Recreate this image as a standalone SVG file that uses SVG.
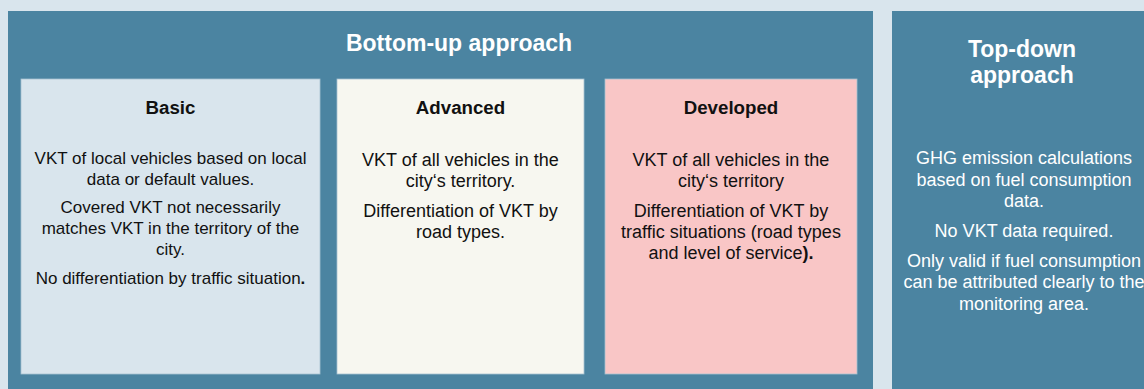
<svg xmlns="http://www.w3.org/2000/svg" width="1144" height="389" viewBox="0 0 1144 389">
<style>
.panel{fill:#4b84a1}
.box{stroke:#a7c2d1;stroke-width:0.8}
.head{font-family:"Liberation Sans",Arial,sans-serif;font-weight:bold;font-size:23px;fill:#ffffff;text-anchor:middle}
.sub{font-family:"Liberation Sans",Arial,sans-serif;font-weight:bold;font-size:18.7px;fill:#111111;text-anchor:middle}
.body{font-family:"Liberation Sans",Arial,sans-serif;font-size:18px;fill:#111111;text-anchor:middle}
.small{font-size:17px}
.wbody{font-family:"Liberation Sans",Arial,sans-serif;font-size:18px;fill:#ffffff;text-anchor:middle}
</style>
<rect x="0" y="0" width="1144" height="389" fill="#d9e5ed"/>
<g id="bottom-up">
<rect class="panel" x="8" y="11" width="865" height="390"/>
<text class="head" x="459" y="51" font-size="23.5">Bottom-up approach</text>
</g>
<g id="basic">
<rect class="box" x="21" y="79" width="299" height="295" fill="#d9e5ed"/>
<text class="sub" x="170.5" y="114">Basic</text>
<text class="body small" x="170.5" y="164">VKT of local vehicles based on local</text>
<text class="body small" x="170.5" y="185">data or default values.</text>
<text class="body small" x="170.5" y="213">Covered VKT not necessarily</text>
<text class="body small" x="170.5" y="234">matches VKT in the territory of the</text>
<text class="body small" x="170.5" y="255">city.</text>
<text class="body small" x="170.5" y="284">No differentiation by traffic situation<tspan font-weight="bold">.</tspan></text>
</g>
<g id="advanced">
<rect class="box" x="337" y="79" width="247" height="295" fill="#f7f7f0"/>
<text class="sub" x="460.5" y="114">Advanced</text>
<text class="body" x="460.5" y="166">VKT of all vehicles in the</text>
<text class="body" x="460.5" y="187">city‘s territory.</text>
<text class="body" x="460.5" y="217">Differentiation of VKT by</text>
<text class="body" x="460.5" y="238">road types.</text>
</g>
<g id="developed">
<rect class="box" x="605" y="79" width="252" height="295" fill="#f9c6c6"/>
<text class="sub" x="731" y="114">Developed</text>
<text class="body" x="731" y="166">VKT of all vehicles in the</text>
<text class="body" x="731" y="187">city‘s territory</text>
<text class="body" x="731" y="217">Differentiation of VKT by</text>
<text class="body" x="731" y="238">traffic situations (road types</text>
<text class="body" x="731" y="259">and level of service<tspan font-weight="bold">).</tspan></text>
</g>
<g id="top-down">
<rect class="panel" x="892" y="11" width="260" height="390"/>
<text class="head" x="1022" y="57">Top-down</text>
<text class="head" x="1022" y="83">approach</text>
<text class="wbody" x="1024" y="164">GHG emission calculations</text>
<text class="wbody" x="1024" y="186">based on fuel consumption</text>
<text class="wbody" x="1024" y="207">data.</text>
<text class="wbody" x="1024" y="237">No VKT data required.</text>
<text class="wbody" x="1024" y="267">Only valid if fuel consumption</text>
<text class="wbody" x="1024" y="288">can be attributed clearly to the</text>
<text class="wbody" x="1024" y="310">monitoring area.</text>
</g>
<g id="connectors"/>
</svg>
